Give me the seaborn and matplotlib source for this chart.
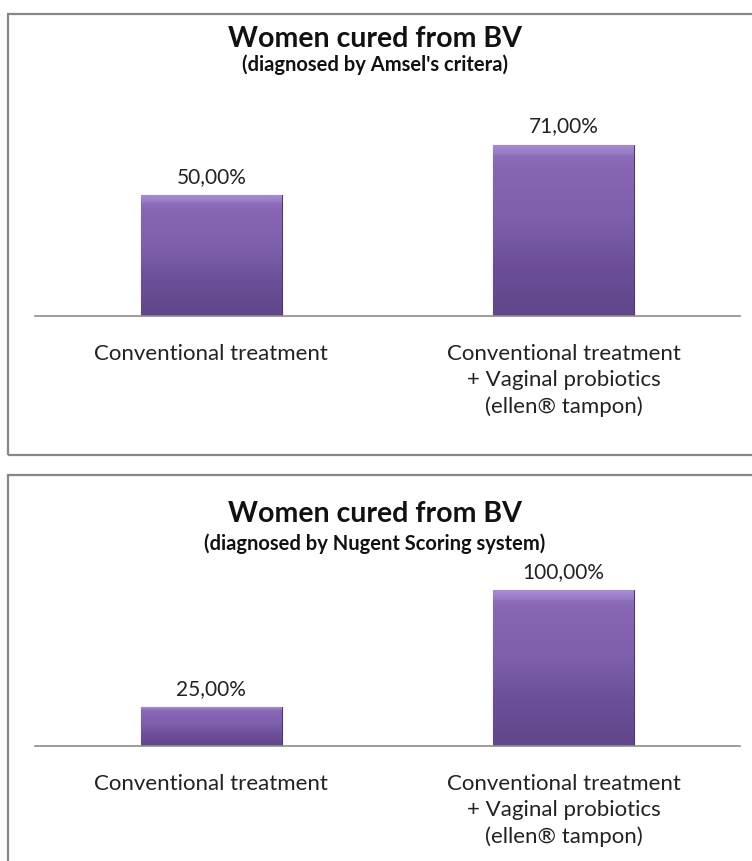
import numpy as np
import pandas as pd
import matplotlib.pyplot as plt
import seaborn as sns
from matplotlib.patches import Rectangle
from matplotlib.colors import LinearSegmentedColormap

categories = ["Conventional treatment",
              "Conventional treatment\n+ Vaginal probiotics\n(ellen® tampon)"]
amsel_values = [50.0, 71.0]
nugent_values = [25.0, 100.0]
titles = ["Women cured from BV", "Women cured from BV"]
subtitles = ["(diagnosed by Amsel's critera)", "(diagnosed by Nugent Scoring system)"]

sns.set_theme(style="white")
plt.rcParams['font.family'] = ['Lato', 'DejaVu Sans']

W, H = 752, 861
fig = plt.figure(figsize=(W / 100, H / 100), dpi=100)
fig.patch.set_facecolor('white')


def fx(px):
    return px / W


def fy(py):
    return 1 - py / H


def add_axes_px(left, top, right, bottom):
    return fig.add_axes([fx(left), fy(bottom), fx(right) - fx(left), (bottom - top) / H])


# panel borders
for (l, t, r, b) in [(8, 14, 760, 455), (8, 475, 760, 870)]:
    fig.patches.append(Rectangle((fx(l), fy(b)), fx(r) - fx(l), (b - t) / H,
                                 transform=fig.transFigure, fill=False,
                                 edgecolor='#878787', linewidth=1.6))

bar_cmap = LinearSegmentedColormap.from_list(
    'bv', ['#a68bd3', '#8766b4', '#7f60ad', '#6c4f98', '#62468b'])


def draw_panel(ax, values, ymax):
    df = pd.DataFrame({'group': categories, 'pct': values})
    sns.barplot(data=df, x='group', y='pct', ax=ax, color='#7b5ca8',
                width=0.4, edgecolor='#4e3870', linewidth=0.8)
    # vertical gradient for bars
    grad = np.concatenate([np.linspace(0, 0.12, 4), np.linspace(0.2, 1, 60)]).reshape(-1, 1)
    for p in ax.patches:
        x0, y0 = p.get_x(), p.get_y()
        w, h = p.get_width(), p.get_height()
        im = ax.imshow(grad, cmap=bar_cmap, aspect='auto', vmin=0, vmax=1,
                       extent=[x0, x0 + w, y0, y0 + h], origin='upper', zorder=p.get_zorder() + 0.1)
        im.set_clip_path(p)
    ax.set_xlim(-0.5, 1.5)
    ax.set_ylim(0, ymax)
    ax.bar_label(ax.containers[0],
                 labels=[f"{v:.2f}".replace('.', ',') + '%' for v in values],
                 padding=6, fontsize=15, color='#222222')
    ax.set_xlabel('')
    ax.set_ylabel('')
    ax.set_yticks([])
    for s in ['top', 'left', 'right']:
        ax.spines[s].set_visible(False)
    ax.spines['bottom'].set_color('#8c8c8c')
    ax.spines['bottom'].set_linewidth(1.2)
    ax.tick_params(axis='x', length=0, pad=20, labelsize=16, colors='#222222')
    for lab in ax.get_xticklabels():
        lab.set_linespacing(1.38)
    ax.set_facecolor('none')


ax1 = add_axes_px(35, 316 - 193, 740, 316)
draw_panel(ax1, amsel_values, 80)

ax2 = add_axes_px(35, 746 - 187, 740, 746)
draw_panel(ax2, nugent_values, 120)

fig.text(fx(375), fy(39), titles[0], ha='center', va='center', fontsize=20.5, fontweight='bold', color='#111111')
fig.text(fx(375), fy(65), subtitles[0], ha='center', va='center', fontsize=14.5, fontweight='bold', color='#111111')
fig.text(fx(375), fy(514), titles[1], ha='center', va='center', fontsize=20.5, fontweight='bold', color='#111111')
fig.text(fx(375), fy(544), subtitles[1], ha='center', va='center', fontsize=14.5, fontweight='bold', color='#111111')

fig.savefig('out.png', dpi=100, facecolor='white')
